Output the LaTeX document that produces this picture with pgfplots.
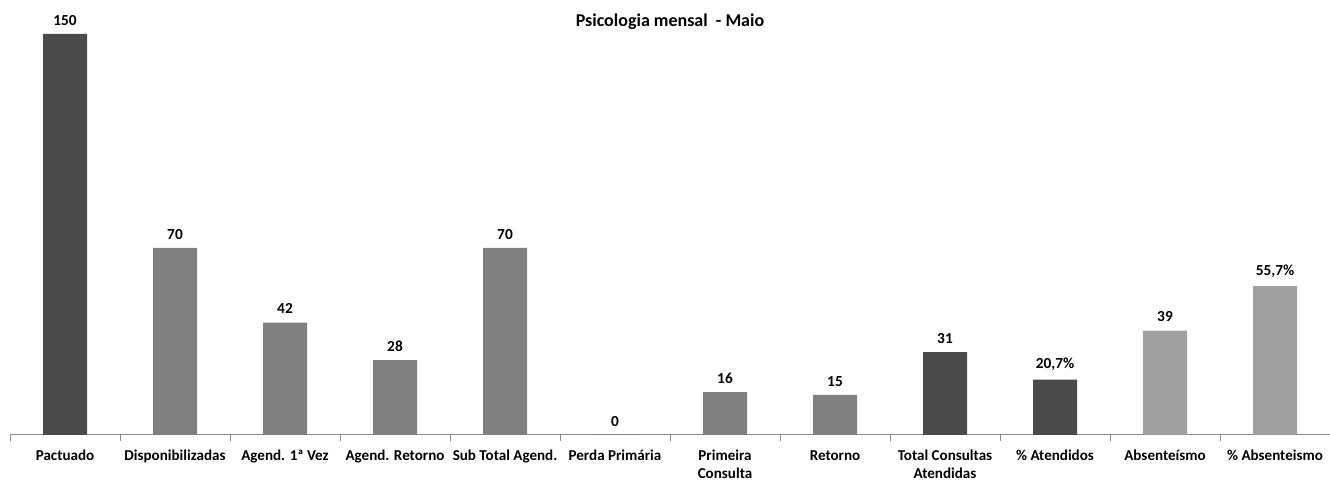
\documentclass[border=0pt]{standalone}
\usepackage{fontspec}
\setmainfont{Carlito}
\usepackage{pgfplots}
\pgfplotsset{compat=1.18}
\definecolor{barDark}{HTML}{4A4A4A}
\definecolor{barMid}{HTML}{808080}
\definecolor{barLight}{HTML}{A0A0A0}
\definecolor{axisGray}{HTML}{898989}

\begin{document}
\begin{tikzpicture}
\begin{axis}[
  scale only axis, width=990pt, height=326.25pt,
  xmin=-0.5, xmax=11.5, ymin=0, ymax=162.7,
  ybar, bar width=33pt, bar shift=0pt,
  axis y line=none, axis x line*=bottom,
  x axis line style={axisGray, line width=0.75pt},
  xtick={0,...,11},
  major tick length=0pt,
  minor xtick={-0.5,0.5,...,11.5},
  minor tick length=4.5pt,
  tick align=outside,
  minor tick style={axisGray, line width=0.75pt},
  xticklabels={Pactuado, Disponibilizadas, {Agend. 1ª Vez}, {Agend. Retorno},
    {Sub Total Agend.}, {Perda Primária}, {Primeira\\Consulta}, Retorno,
    {Total Consultas\\Atendidas}, {\% Atendidos}, Absenteísmo, {\% Absenteismo}},
  xticklabel style={font=\bfseries\fontsize{11.3}{13}\selectfont, align=center,
    anchor=north, yshift=-8pt},
  nodes near coords, point meta=explicit symbolic,
  nodes near coords style={font=\bfseries\fontsize{11.5}{13}\selectfont, yshift=3pt},
  title={Psicologia mensal\ \ - Maio},
  title style={at={(0.5,1)}, anchor=center, yshift=-22pt,
    font=\bfseries\fontsize{13.5}{16}\selectfont},
  clip=false,
]
\addplot[fill=barDark, draw=none] coordinates {
  (0,150) [150] (8,31) [31] (9,20.7) [20,7\%]
};
\addplot[fill=barMid, draw=none] coordinates {
  (1,70) [70] (2,42) [42] (3,28) [28] (4,70) [70]
  (5,0) [0] (6,16) [16] (7,15) [15]
};
\addplot[fill=barLight, draw=none] coordinates {
  (10,39) [39] (11,55.7) [55,7\%]
};
\end{axis}
\pgfresetboundingbox
\path (current axis.south west) ++(-7.5pt,-34.5pt) rectangle (current axis.north east);
\end{tikzpicture}
\end{document}
